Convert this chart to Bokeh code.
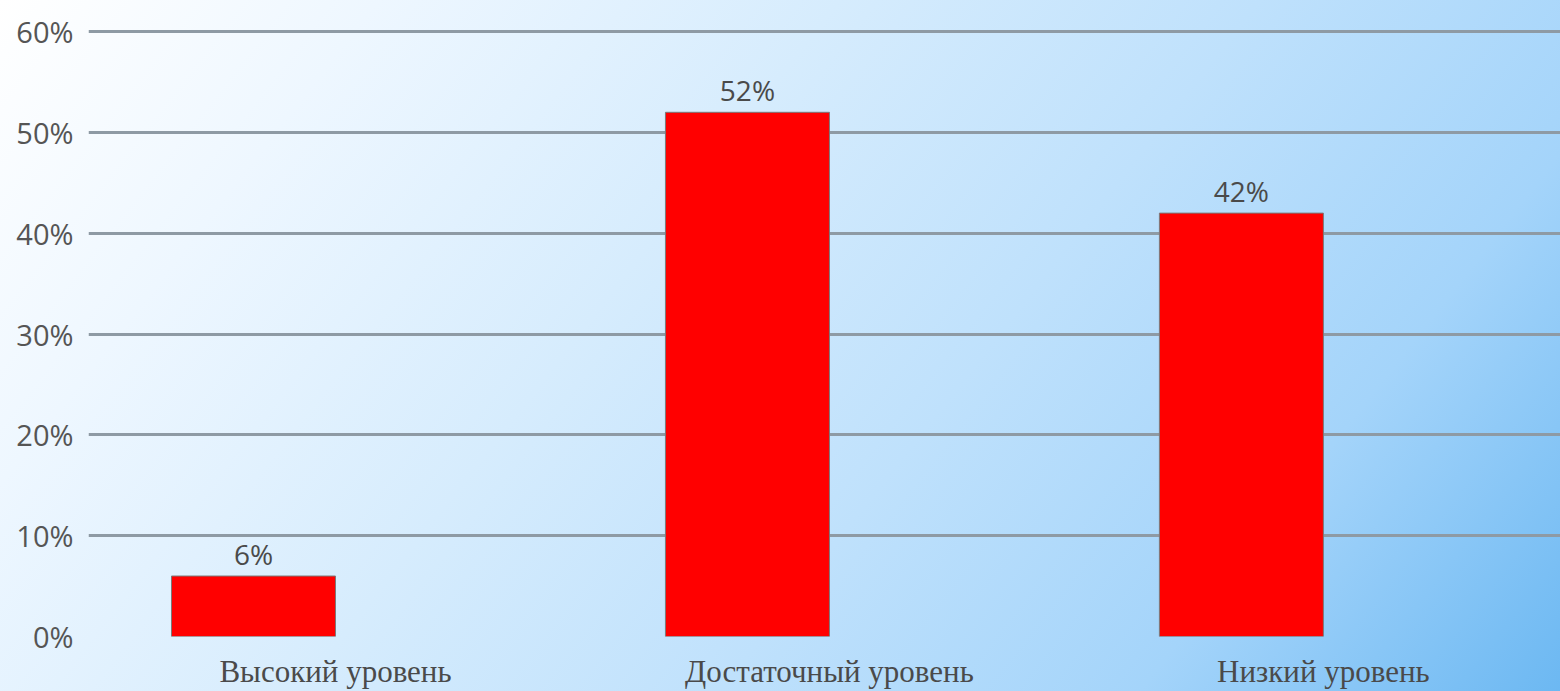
from bokeh.plotting import figure
from bokeh.models import Range1d, FixedTicker, ColumnDataSource, NumeralTickFormatter
from bokeh.core.properties import value
from bokeh.embed import file_html
from bokeh.resources import INLINE

categories = ["Высокий уровень", "Достаточный уровень", "Низкий уровень"]
shares = [0.06, 0.52, 0.42]
labels = ["6%", "52%", "42%"]
y_ticks = [0.0, 0.1, 0.2, 0.3, 0.4, 0.5, 0.6]

slot_pos = [i + 0.5 for i in range(len(categories))]
bar_pos = [i + 0.334 for i in range(len(categories))]

src = ColumnDataSource(dict(x=bar_pos, top=shares, lab=labels))

p = figure(
    width=1560, height=691,
    output_backend="svg", toolbar_location=None,
    x_range=Range1d(0, 2.98), y_range=Range1d(0, 0.62),
    min_border_left=88, min_border_right=0, min_border_top=11, min_border_bottom=54,
    styles={"background": "linear-gradient(128deg, #ffffff 0%, #eef7ff 18%, #d6ecfd 40%, #bfe1fc 60%, #a4d4fa 80%, #6cb8f2 100%)"},
)
p.background_fill_alpha = 0
p.border_fill_alpha = 0
p.outline_line_color = None

p.vbar(x="x", top="top", bottom=0, width=0.332, source=src,
       fill_color="#ff0000", line_color="#7a7a7a", line_width=1)

p.text(x="x", y="top", text="lab", source=src, text_align="center",
       text_baseline="bottom", y_offset=-3, text_font=value("Open Sans"),
       text_font_size="28px", text_color="#4a4a4a")

p.xgrid.visible = False
p.ygrid.ticker = FixedTicker(ticks=y_ticks)
p.ygrid.grid_line_color = "#8e9aa4"
p.ygrid.grid_line_width = 3

p.yaxis.ticker = FixedTicker(ticks=y_ticks)
p.yaxis.formatter = NumeralTickFormatter(format="0%")
p.yaxis.axis_line_color = None
p.yaxis.major_tick_line_color = None
p.yaxis.minor_tick_line_color = None
p.yaxis.major_label_standoff = 9
p.yaxis.major_label_text_font = "Open Sans"
p.yaxis.major_label_text_font_size = "29px"
p.yaxis.major_label_text_color = "#555555"

p.xaxis.ticker = FixedTicker(ticks=slot_pos)
p.xaxis.major_label_overrides = {s: c for s, c in zip(slot_pos, categories)}
p.xaxis.axis_line_color = None
p.xaxis.major_tick_line_color = None
p.xaxis.minor_tick_line_color = None
p.xaxis.major_label_standoff = 11
p.xaxis.major_label_text_font = "Liberation Serif"
p.xaxis.major_label_text_font_size = "31px"
p.xaxis.major_label_text_color = "#4a4a4a"

open("out.html", "w").write(file_html(p, INLINE))
